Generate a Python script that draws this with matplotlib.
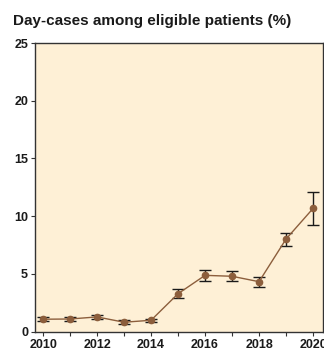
import matplotlib
matplotlib.use("Agg")
import matplotlib.pyplot as plt

years = [2010, 2011, 2012, 2013, 2014, 2015, 2016, 2017, 2018, 2019, 2020]
values = [1.08, 1.1, 1.28, 0.82, 0.99, 3.29, 4.88, 4.8, 4.33, 8.02, 10.67]
errors = [0.19, 0.2, 0.2, 0.15, 0.15, 0.39, 0.48, 0.45, 0.44, 0.57, 1.45]
yticks = [0, 5, 10, 15, 20, 25]

plt.rcParams['font.family'] = ['Liberation Sans', 'DejaVu Sans']

fig = plt.figure(figsize=(3.24, 3.51), dpi=100)
ax = fig.add_axes([35/324, 1 - 331.7/351, (323 - 35)/324, (331.7 - 43)/351])
ax.set_facecolor('#FEF0D6')

ax.errorbar(years, values, yerr=errors, fmt='o-', color='#8C5E3C', markersize=4.5,
            linewidth=1.0, ecolor='#1a1a1a', elinewidth=1.0, capsize=4, capthick=1.0, zorder=3)

ax.set_xlim(2009.7, 2020.37)
ax.set_ylim(0, 25)
ax.set_yticks(yticks)
ax.set_xticks(years)
ax.set_xticklabels([str(y) if y % 2 == 0 else "" for y in years])
for s in ax.spines.values():
    s.set_color('#333333')
    s.set_linewidth(1.0)
ax.tick_params(axis='both', colors='#333333', labelcolor='#1a1a1a', labelsize=9, length=3, width=0.8, pad=2)
for lab in ax.get_xticklabels() + ax.get_yticklabels():
    lab.set_fontweight('bold')

fig.text(13/324, 1 - 21/351, "Day-cases among eligible patients (%)", fontsize=11, fontweight='bold',
         color='#1a1a1a', va='center', ha='left')

fig.savefig("out.png", dpi=100)
